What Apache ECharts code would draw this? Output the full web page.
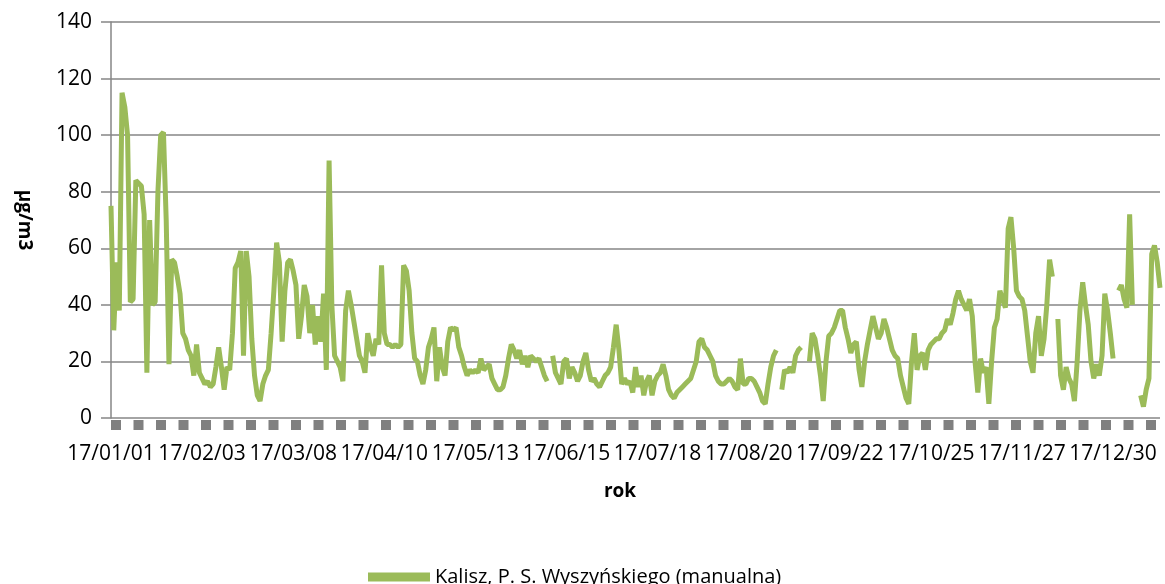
<!DOCTYPE html>
<html>
<head>
<meta charset="utf-8">
<script src="https://cdn.jsdelivr.net/npm/echarts@6/dist/echarts.min.js"></script>
<style>
  html, body { margin: 0; padding: 0; background: #fff; }
  #chart { width: 1165px; height: 584px; }
</style>
</head>
<body>
<div id="chart"></div>
<script>
const startDate = [2017, 0, 1];
const dayCount = 381;
const seriesName = 'Kalisz, P. S. Wyszyńskiego (manualna)';

const pmValues = [
  75, 31, 55, 38, 115, 110, 100, 41, 42, 84,
  83, 82, 72, 16, 70, 40, 41, 80, 100, 101,
  70, 19, 56, 55, 50, 44, 30, 28, 24, 22,
  15, 26, 16, 14, 12, 13, 11, 12, 18, 25,
  18, 10, 18, 17, 30, 53, 55, 59, 22, 59,
  50, 28, 15, 8, 6, 12, 15, 17, 30, 45,
  62, 55, 27, 45, 55, 56, 52, 47, 28, 36,
  47, 43, 30, 40, 26, 36, 27, 44, 17, 91,
  40, 22, 20, 18, 13, 38, 45, 40, 34, 28,
  22, 20, 16, 30, 25, 22, 28, 26, 54, 30,
  26, 26, 25, 26, 25, 26, 54, 52, 45, 30,
  21, 20, 15, 12, 17, 25, 28, 32, 13, 25,
  18, 15, 27, 32, 31, 32, 25, 22, 18, 15,
  17, 16, 17, 16, 21, 17, 18, 19, 14, 12,
  10, 10, 11, 15, 21, 26, 24, 21, 24, 19,
  22, 18, 22, 21, 20, 21, 18, 15, 13, null,
  22, 16, 14, 12, 20, 21, 14, 18, 16, 13,
  15, 20, 23, 17, 13, 14, 12, 11, 13, 15,
  16, 18, 25, 33, 24, 12, 14, 12, 13, 9,
  18, 11, 15, 8, 13, 15, 8, 13, 15, 16,
  19, 15, 10, 8, 7, 9, 10, 11, 12, 13,
  14, 17, 20, 27, 28, 25, 24, 22, 20, 15,
  13, 12, 12, 13, 14, 13, 11, 10, 21, 12,
  12, 14, 14, 13, 11, 9, 6, 5, 12, 18,
  22, 24, null, 10, 17, 16, 18, 16, 22, 24,
  25, null, null, 20, 30, 28, 22, 15, 6, 20,
  29, 30, 32, 35, 38, 38, 32, 28, 23, 26,
  27, 17, 11, 20, 26, 31, 36, 32, 28, 30,
  35, 32, 28, 24, 22, 21, 15, 11, 7, 5,
  20, 30, 17, 22, 23, 17, 24, 26, 27, 28,
  28, 30, 31, 35, 33, 37, 42, 45, 42, 40,
  38, 42, 36, 20, 9, 21, 16, 18, 5, 20,
  32, 35, 45, 42, 39, 67, 71, 60, 45, 43,
  42, 38, 29, 20, 16, 30, 36, 22, 28, 40,
  56, 50, null, 35, 15, 10, 18, 14, 12, 6,
  20, 38, 48, 40, 33, 20, 14, 19, 15, 22,
  44, 38, 30, 21, null, 45, 47, 42, 39, 72,
  40, null, null, 8, 4, 10, 14, 58, 61, 55,
  46
];

const yTicks = { min: 0, max: 140, interval: 20 };
const labelEvery = 33;

function pad(n) {
  return (n < 10 ? '0' : '') + n;
}

const dates = [];
for (let i = 0; i < dayCount; i++) {
  const d = new Date(Date.UTC(startDate[0], startDate[1], startDate[2] + i));
  dates.push(pad(d.getUTCFullYear() % 100) + '/' + pad(d.getUTCMonth() + 1) + '/' + pad(d.getUTCDate()));
}

const font = '"Open Sans", "Noto Sans", sans-serif';
const chart = echarts.init(document.getElementById('chart'));

chart.setOption({
  animation: false,
  textStyle: { fontFamily: font },
  grid: { left: 111, right: 5, top: 22, bottom: 166, containLabel: false },
  legend: {
    data: [seriesName],
    left: 363,
    top: 562,
    icon: 'rect',
    itemWidth: 62,
    itemHeight: 9,
    itemGap: 10,
    textStyle: { fontSize: 20, color: '#000', fontFamily: font }
  },
  xAxis: {
    type: 'category',
    data: dates,
    boundaryGap: false,
    offset: 7,
    name: 'rok',
    nameLocation: 'middle',
    nameGap: 57,
    nameTextStyle: { fontSize: 19, fontWeight: 'bold', color: '#000', padding: [0, 31, 0, 0] },
    // the gray squares under the plot: a thick dashed axis line
    axisLine: { onZero: false, lineStyle: { color: '#808080', width: 10, type: [10, 12.5], cap: 'butt' } },
    axisTick: { show: false },
    axisLabel: {
      interval: labelEvery - 1,
      margin: 19,
      fontSize: 21,
      color: '#000'
    },
    splitLine: { show: false }
  },
  yAxis: {
    type: 'value',
    min: yTicks.min,
    max: yTicks.max,
    interval: yTicks.interval,
    name: 'µg/m3',
    nameLocation: 'middle',
    nameRotate: -90,
    nameGap: 77,
    nameTextStyle: { fontSize: 19, fontWeight: 'bold', color: '#000' },
    axisLine: { show: true, lineStyle: { color: '#868686', width: 1.5 } },
    axisTick: { show: true, length: 10, lineStyle: { color: '#868686', width: 1.5 } },
    axisLabel: { margin: 19, fontSize: 21, color: '#000' },
    splitLine: { show: true, lineStyle: { color: '#868686', width: 1.5 } }
  },
  series: [{
    name: seriesName,
    type: 'line',
    data: pmValues,
    showSymbol: false,
    connectNulls: false,
    itemStyle: { color: '#9bbb59' },
    lineStyle: { color: '#9bbb59', width: 5 }
  }]
});
</script>
</body>
</html>
